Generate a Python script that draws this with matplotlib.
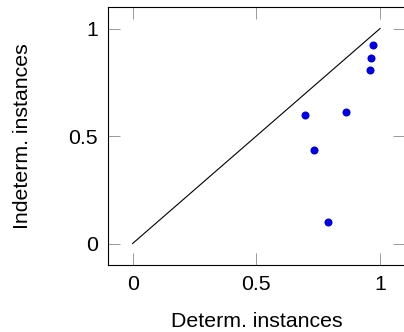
import matplotlib
matplotlib.use("Agg")
import matplotlib.pyplot as plt

plt.rcParams['font.family'] = ['Liberation Sans', 'DejaVu Sans']

determ = [0.970, 0.962, 0.958, 0.698, 0.861, 0.735, 0.791]
indeterm = [0.922, 0.863, 0.806, 0.598, 0.611, 0.437, 0.101]
diag = [0, 1]
ticks = [0, 0.5, 1]
tick_labels = ['0', '0.5', '1']

fig = plt.figure(figsize=(4.04, 3.32), dpi=100)
ax = fig.add_axes([0.267, 0.2018, 0.735, 0.777])

ax.plot(diag, diag, color='black', linewidth=0.8)
ax.plot(determ, indeterm, 'o', color='#0000e0', markersize=5.8, markeredgewidth=0)

ax.set_xlim(-0.1, 1.1)
ax.set_ylim(-0.1, 1.1)
ax.set_xticks(ticks)
ax.set_xticklabels(tick_labels)
ax.set_yticks(ticks)
ax.set_yticklabels(tick_labels)
ax.tick_params(direction='in', length=8.5, width=0.7, color='#999999',
               top=True, right=True, labelsize=15.3, pad=7)
for s in ax.spines.values():
    s.set_linewidth(0.8)

ax.set_xlabel('Determ. instances', fontsize=15.3, labelpad=13)
ax.set_ylabel('Indeterm. instances', fontsize=15.3, labelpad=26)

fig.savefig('out.png', dpi=100)
